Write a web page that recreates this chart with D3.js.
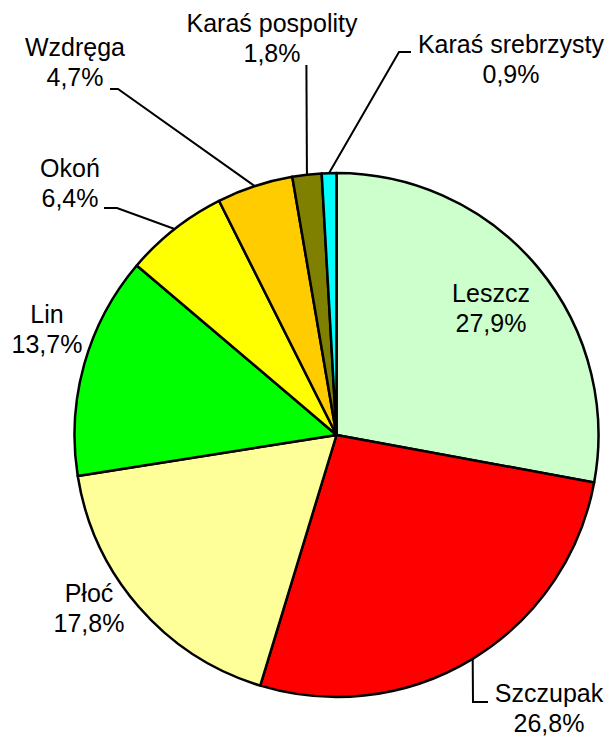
<!DOCTYPE html>
<html>
<head>
<meta charset="utf-8">
<script src="https://cdn.jsdelivr.net/npm/d3@7"></script>
<style>
  html, body { margin: 0; padding: 0; background: #fff; }
  svg { display: block; }
</style>
</head>
<body>
<svg id="chart" width="614" height="740"></svg>
<script>
// ---- data ----
const categories = ["Leszcz", "Szczupak", "Płoć", "Lin", "Okoń", "Wzdręga", "Karaś pospolity", "Karaś srebrzysty"];
const values = [27.9, 26.8, 17.8, 13.7, 6.4, 4.7, 1.8, 0.9];
const colors = ["#CCFFCC", "#FF0000", "#FFFF99", "#00FF00", "#FFFF00", "#FFCC00", "#808000", "#00FFFF"];

// ---- layout (label anchor: centre x, first baseline y; leader elbow points) ----
const labelPos = [
  { x: 491, y: 302, leader: null },
  { x: 549, y: 702, leader: [[473, 702], [488, 702]] },
  { x: 89,  y: 602, leader: null },
  { x: 47,  y: 323, leader: null },
  { x: 70,  y: 177, leader: [[117, 208], [104, 208]] },
  { x: 75,  y: 56,  leader: [[118, 89], [110, 89]] },
  { x: 272, y: 32,  leader: [[306.4, 65]] },
  { x: 511, y: 53,  leader: [[399, 52], [411, 52]] }
];

const cx = 336.5, cy = 435, R = 262;
const fmt = v => d3.format(".1f")(v).replace(".", ",") + "%";

const svg = d3.select("#chart");
const g = svg.append("g").attr("transform", `translate(${cx},${cy})`);

const pie = d3.pie().sort(null).value(d => d.value);
const data = categories.map((c, i) => ({ name: c, value: values[i], color: colors[i], lp: labelPos[i] }));
const arcs = pie(data);

const arc = d3.arc().innerRadius(0).outerRadius(R);
const edgeArc = d3.arc().innerRadius(R).outerRadius(R);

g.selectAll("path.slice")
  .data(arcs)
  .enter().append("path")
  .attr("class", "slice")
  .attr("d", arc)
  .attr("fill", d => d.data.color)
  .attr("stroke", "#000")
  .attr("stroke-width", 2.5)
  .attr("stroke-linejoin", "round");

// leader lines
const line = d3.line();
arcs.forEach(d => {
  if (!d.data.lp.leader) return;
  const c = edgeArc.centroid(d);
  const pts = [[c[0] + cx, c[1] + cy]].concat(d.data.lp.leader);
  svg.append("path")
    .attr("d", line(pts))
    .attr("fill", "none")
    .attr("stroke", "#000")
    .attr("stroke-width", 2);
});

// labels
const lbl = svg.selectAll("text.lbl")
  .data(arcs)
  .enter().append("text")
  .attr("class", "lbl")
  .attr("text-anchor", "middle")
  .attr("font-family", "'Liberation Sans', Arial, sans-serif")
  .attr("font-size", 25)
  .attr("fill", "#000");

lbl.append("tspan")
  .attr("x", d => d.data.lp.x)
  .attr("y", d => d.data.lp.y)
  .text(d => d.data.name);
lbl.append("tspan")
  .attr("x", d => d.data.lp.x)
  .attr("y", d => d.data.lp.y + 30)
  .text(d => fmt(d.data.value));
</script>
</body>
</html>
